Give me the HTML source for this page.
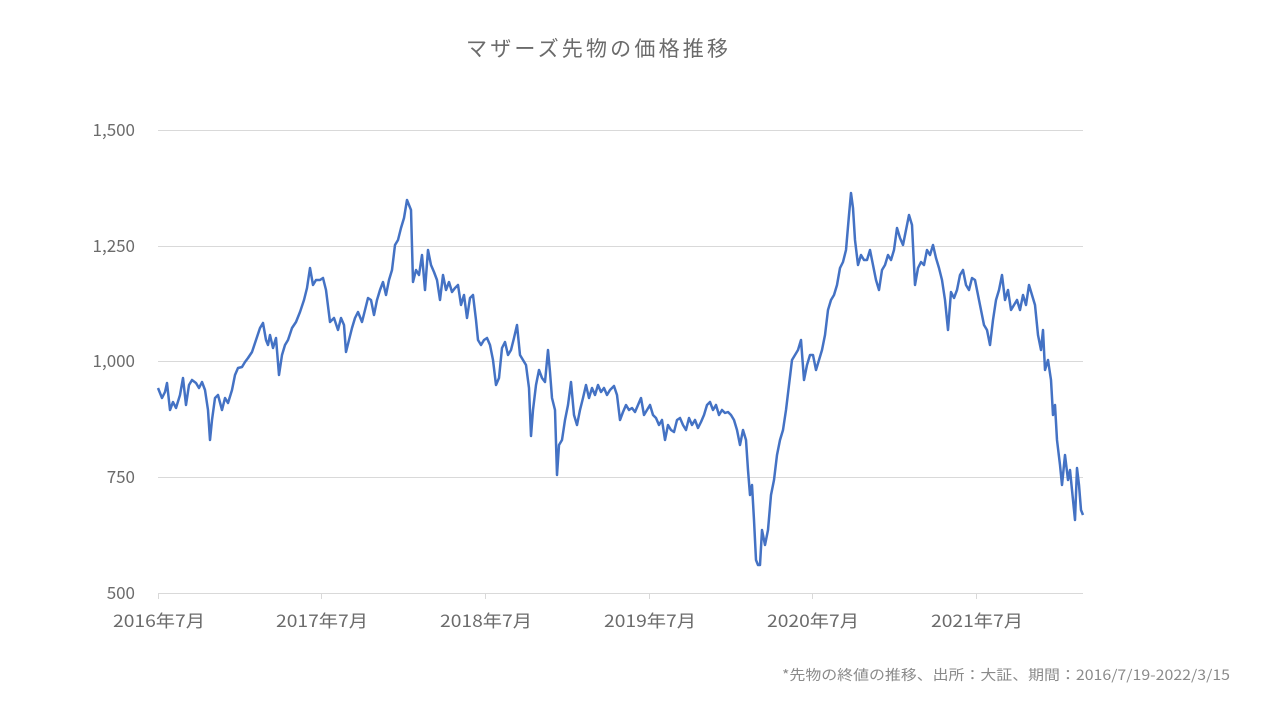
<!DOCTYPE html>
<html><head><meta charset="utf-8"><style>
body{margin:0;background:#fff;}
svg text{font-family:"Noto Sans CJK JP","Liberation Sans",sans-serif;fill:#6b6b6b;}
</style></head><body>
<svg width="1280" height="720" xmlns="http://www.w3.org/2000/svg">
<rect width="1280" height="720" fill="#fff"/>
<text x="466" y="56" font-size="21" textLength="262" lengthAdjust="spacing">マザーズ先物の価格推移</text>
<g stroke="#d9d9d9" stroke-width="1">
<line x1="158" y1="130.5" x2="1083" y2="130.5"/>
<line x1="158" y1="246.5" x2="1083" y2="246.5"/>
<line x1="158" y1="361.5" x2="1083" y2="361.5"/>
<line x1="158" y1="477.5" x2="1083" y2="477.5"/>
<line x1="158" y1="593.5" x2="1083" y2="593.5"/>
</g>
<g stroke="#d9d9d9" stroke-width="1">
<line x1="158.5" y1="593" x2="158.5" y2="599"/>
<line x1="321.5" y1="593" x2="321.5" y2="599"/>
<line x1="485.5" y1="593" x2="485.5" y2="599"/>
<line x1="649.5" y1="593" x2="649.5" y2="599"/>
<line x1="812.5" y1="593" x2="812.5" y2="599"/>
<line x1="976.5" y1="593" x2="976.5" y2="599"/>
</g>
<g font-size="17" text-anchor="end">
<text x="135" y="136">1,500</text>
<text x="135" y="252">1,250</text>
<text x="135" y="367">1,000</text>
<text x="135" y="483">750</text>
<text x="135" y="599">500</text>
</g>
<g font-size="17">
<text x="113" y="627" textLength="92" lengthAdjust="spacingAndGlyphs">2016年7月</text>
<text x="276" y="627" textLength="92" lengthAdjust="spacingAndGlyphs">2017年7月</text>
<text x="440" y="627" textLength="92" lengthAdjust="spacingAndGlyphs">2018年7月</text>
<text x="604" y="627" textLength="92" lengthAdjust="spacingAndGlyphs">2019年7月</text>
<text x="767" y="627" textLength="92" lengthAdjust="spacingAndGlyphs">2020年7月</text>
<text x="931" y="627" textLength="92" lengthAdjust="spacingAndGlyphs">2021年7月</text>
</g>
<text x="782" y="680" font-size="14" textLength="448" lengthAdjust="spacingAndGlyphs" style="fill:#8a8a8a">*先物の終値の推移、出所：大証、期間：2016/7/19-2022/3/15</text>
<polyline fill="none" stroke="#4472c4" stroke-width="2.5" stroke-linejoin="round" points="158,388 162,398 165,392 167,383 170,410 173,402 176,408 180,395 183,378 186,405 189,385 192,380 196,383 199,388 202,382 205,390 208,410 210,440 212,420 215,398 218,395 222,410 225,398 228,403 232,390 235,375 238,368 242,367 245,362 248,358 252,352 256,340 260,328 263,323 266,340 268,345 270,335 273,348 276,338 279,375 282,355 285,345 288,340 292,328 296,322 300,312 304,300 307,288 310,268 313,285 316,280 320,280 323,278 326,290 330,322 334,318 338,330 341,318 344,325 346,352 349,340 352,328 355,318 358,312 362,322 365,310 368,298 371,300 374,315 377,300 380,290 383,282 386,295 389,280 392,270 395,245 398,240 401,228 404,218 407,200 409,205 411,210 413,282 416,270 419,275 422,255 425,290 428,250 431,265 434,272 437,280 440,300 443,275 446,290 449,282 452,292 455,288 458,285 461,305 464,295 467,318 470,298 473,295 476,320 478,340 481,345 484,340 487,338 490,345 493,360 496,385 499,378 502,348 505,342 508,355 511,350 514,338 517,325 520,355 523,360 526,365 529,388 531,436 533,410 536,385 539,370 542,378 545,382 548,350 550,372 552,398 555,410 557,475 559,445 562,440 565,420 568,405 571,382 574,415 577,425 580,410 583,398 586,385 589,398 592,388 595,395 598,385 601,392 604,388 607,395 610,390 614,386 617,395 620,420 623,412 626,405 629,410 632,408 635,412 638,405 641,398 644,415 647,410 650,405 653,415 656,418 659,425 662,420 665,440 668,425 671,430 674,432 677,420 680,418 683,425 686,430 689,418 692,425 695,420 698,428 701,422 704,415 707,405 710,402 713,410 716,405 719,415 722,410 725,413 728,412 731,415 734,420 737,430 740,445 743,430 746,440 748,470 750,495 752,485 754,520 756,560 758,565 760,565 762,530 765,545 768,530 771,495 774,480 777,455 780,440 783,430 786,410 789,385 792,360 795,355 798,350 801,340 804,380 807,365 810,355 813,355 816,370 819,360 822,350 825,335 828,310 831,300 834,295 837,285 840,268 843,262 846,250 849,215 851,193 853,208 855,240 858,265 861,255 864,260 867,260 870,250 873,265 876,280 879,290 882,270 885,265 888,255 891,260 894,250 897,228 900,238 903,245 906,230 909,215 912,225 915,285 918,268 921,262 924,265 927,250 930,255 933,245 936,258 939,268 942,280 945,300 948,330 951,292 954,298 957,290 960,275 963,270 966,285 969,290 972,278 975,280 978,295 981,310 984,325 987,330 990,345 993,320 996,300 999,290 1002,275 1005,300 1008,290 1011,310 1014,305 1017,300 1020,310 1023,295 1026,305 1029,285 1032,295 1035,305 1038,335 1041,350 1043,330 1045,370 1048,360 1051,380 1053,415 1055,405 1057,440 1060,465 1062,485 1065,455 1068,480 1070,470 1073,500 1075,520 1077,468 1079,485 1081,510 1083,515"/>
</svg>
</body></html>
